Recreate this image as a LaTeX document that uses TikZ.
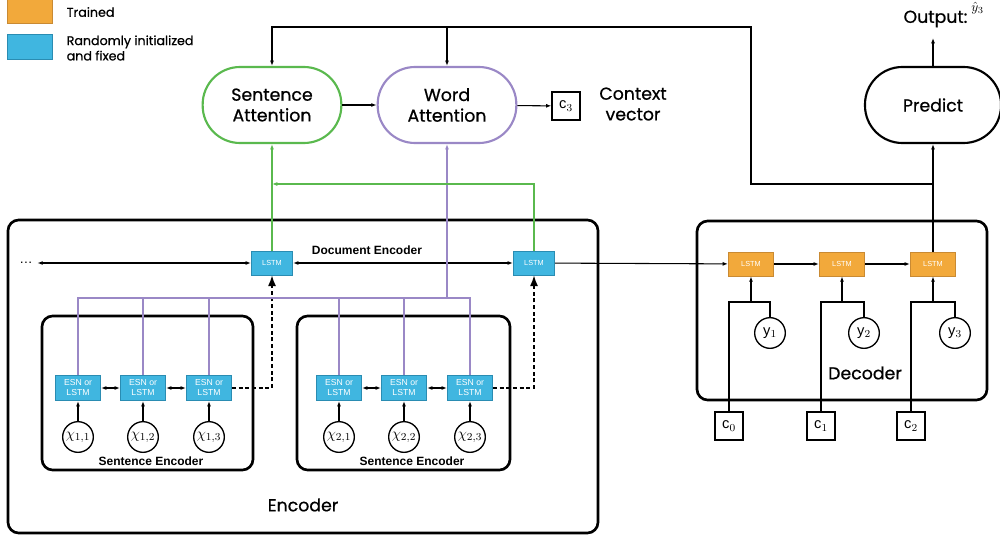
\documentclass[tikz,border=0pt]{standalone}
\usepackage{fontspec}
\usepackage{amsmath}
\setmainfont{Liberation Sans}
\newfontfamily\geo[FakeBold=0.7]{Poppins}
\usetikzlibrary{positioning,arrows.meta}

\definecolor{trainfill}{HTML}{F2A93B}
\definecolor{trainedge}{HTML}{C98A33}
\definecolor{fixfill}{HTML}{40B6E0}
\definecolor{fixedge}{HTML}{2A8CB2}
\definecolor{sentgreen}{HTML}{5AB94E}
\definecolor{wordpurple}{HTML}{9A88C6}

\begin{document}
\begin{tikzpicture}[
    x=0.75pt, y=-0.75pt,
    >={Latex[length=4pt,width=3pt]},
    conn/.style={line width=0.8pt},
    pill/.style={draw,line width=1.6pt,rounded corners=28pt,minimum width=104pt,minimum height=57pt,align=center,font=\geo\fontsize{13}{15.5}\selectfont},
    group/.style={draw,line width=2pt,rounded corners=8pt},
    fixbox/.style={draw=fixedge,fill=fixfill,line width=0.6pt,text=white,inner sep=0pt,align=center},
    doclstm/.style={fixbox,minimum width=31pt,minimum height=18pt,font=\fontsize{5.5}{6}\selectfont},
    esn/.style={fixbox,minimum width=34pt,minimum height=19pt,font=\fontsize{6.5}{7.5}\selectfont},
    declstm/.style={draw=trainedge,fill=trainfill,line width=0.6pt,text=white,inner sep=0pt,minimum width=34pt,minimum height=18pt,font=\fontsize{5.5}{6}\selectfont},
    token/.style={draw,circle,line width=1pt,minimum size=23pt,inner sep=0pt,font=\fontsize{11}{12}\selectfont},
    ctx/.style={draw,line width=0.9pt,minimum size=21pt,inner sep=0pt,font=\fontsize{11}{12}\selectfont},
    biglabel/.style={font=\geo\fontsize{13}{15.5}\selectfont,align=center},
    smalllabel/.style={font=\bfseries\fontsize{9}{10}\selectfont},
    sentline/.style={conn,draw=sentgreen},
    wordline/.style={conn,draw=wordpurple},
    dotarrow/.style={line width=1pt,densely dashed,-{Latex[length=8pt,width=6pt]}}
]
    \useasboundingbox (0,0) rectangle (1000,535);

    % Legend
    \node[declstm,minimum height=18pt] (legtrain) at (30,11) {};
    \node[fixbox,minimum width=34pt,minimum height=19pt] (legfix) at (30,47) {};
    \node[anchor=west,font=\geo\fontsize{9.5}{11}\selectfont] (legtraintxt) at (62,12) {Trained};
    \node[anchor=west,align=left,font=\geo\fontsize{9.5}{11.5}\selectfont] (legfixtxt) at (62,48) {Randomly initialized\\and fixed};

    % Attention and prediction
    \node[pill,draw=sentgreen] (sa) at (272,105) {Sentence\\Attention};
    \node[pill,draw=wordpurple] (wa) at (447,105) {Word\\Attention};
    \node[ctx] (c3) at (566,106) {$\mathrm{c}_3$};
    \node[biglabel] (ctxtxt) at (633,104) {Context\\vector};
    \node[pill,minimum width=102pt] (pr) at (933,105) {Predict};
    \node[biglabel,anchor=east,inner sep=1pt] (outtxt) at (969,19) {Output:};
    \node[anchor=north west,inner sep=0pt,font=\fontsize{10}{11}\selectfont] (outy) at (971,2) {$\hat{y}_3$};
    \coordinate (outp) at (933,38);

    % Encoder
    \draw[group] (8,220) rectangle (598,533);
    \node[biglabel] (enctxt) at (303,505) {Encoder};
    \node[smalllabel] (doctxt) at (367,250) {Document Encoder};
    \node (dots) at (26,263) {\dots};
    \node[doclstm] (dl1) at (272,263) {LSTM};
    \node[doclstm] (dl2) at (534,263) {LSTM};

    % Sentence encoders
    \draw[group] (42,316) rectangle (253,470);
    \draw[group] (297,316) rectangle (510,470);
    \node[smalllabel] (se1txt) at (151,461) {Sentence Encoder};
    \node[smalllabel] (se2txt) at (412,461) {Sentence Encoder};
    \foreach \i/\x in {1/78,2/143,3/209}{
        \node[esn] (e1\i) at (\x,388) {ESN or\\LSTM};
        \node[token] (x1\i) at (\x,437) {$\chi_{1,\i}$};
        \draw[conn,->] (x1\i) -- (e1\i);
    }
    \foreach \i/\x in {1/339,2/404,3/470}{
        \node[esn] (e2\i) at (\x,388) {ESN or\\LSTM};
        \node[token] (x2\i) at (\x,437) {$\chi_{2,\i}$};
        \draw[conn,->] (x2\i) -- (e2\i);
    }
    \draw[conn,<->] (e11) -- (e12);
    \draw[conn,<->] (e12) -- (e13);
    \draw[conn,<->] (e21) -- (e22);
    \draw[conn,<->] (e22) -- (e23);
    \draw[dotarrow] (e13.east) -| (dl1.south);
    \draw[dotarrow] (e23.east) -| (dl2.south);

    % Document encoder links
    \draw[conn,<->] (dots) -- (dl1);
    \draw[conn,<->] (dl1) -- (dl2);

    % Word attention bus
    \coordinate (busy) at (0,298);
    \draw[wordline] (e11.north) |- (e23.north |- busy) -- (e23.north);
    \foreach \n in {e12,e13,e21,e22}
        \draw[wordline] (\n.north) -- (\n.north |- busy);
    \draw[wordline,->] (wa.south |- busy) -- (wa.south);

    % Sentence attention links
    \coordinate (greeny) at (0,184);
    \draw[sentline,->] (dl1.north) -- (sa.south);
    \draw[sentline,->] (dl2.north) |- (dl1.north |- greeny);

    % Decoder
    \draw[group] (697,221) rectangle (987,400);
    \node[biglabel] (dectxt) at (865,373) {Decoder};
    \coordinate (feedy) at (0,302);
    \foreach \i/\x/\yx/\cx in {1/751/770/729,2/842/864/821,3/933/955/911}{
        \node[declstm] (dc\i) at (\x,264) {LSTM};
        \node[token] (y\i) at (\yx,333) {$\mathrm{y}_\i$};
        \pgfmathtruncatemacro{\j}{\i-1}
        \node[ctx] (c\j) at (\cx,426) {$\mathrm{c}_\j$};
        \draw[conn] (c\j.north) |- (y\i.north |- feedy) -- (y\i.north);
        \draw[conn,->] (dc\i.south |- feedy) -- (dc\i.south);
    }
    \draw[conn,->] (dl2) -- (dc1);
    \draw[conn,->] (dc1) -- (dc2);
    \draw[conn,->] (dc2) -- (dc3);

    % Prediction and feedback to attention
    \coordinate (topy) at (0,27);
    \coordinate (branch) at (751,184);
    \draw[conn,->] (dc3.north) -- (pr.south);
    \draw[conn,->] (pr.north) -- (outp);
    \draw[conn,->] (dc3.north |- branch) -- (branch) |- (wa.north |- topy) -| (sa.north);
    \draw[conn,->] (wa.north |- topy) -- (wa.north);
    \draw[conn,->] (sa) -- (wa);
    \draw[conn,->] (wa) -- (c3);
\end{tikzpicture}
\end{document}
